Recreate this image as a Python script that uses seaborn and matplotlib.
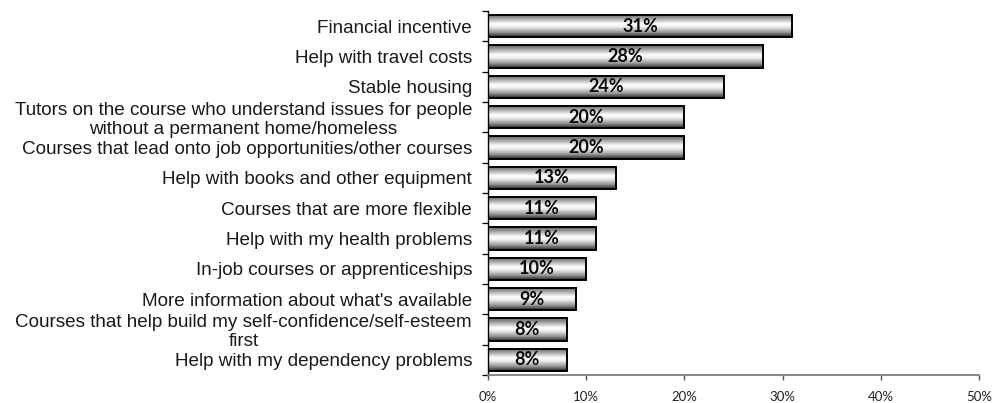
import numpy as np
import pandas as pd
import matplotlib
matplotlib.use("Agg")
import matplotlib.pyplot as plt
from matplotlib.colors import LinearSegmentedColormap
from matplotlib.ticker import FuncFormatter, MultipleLocator
import seaborn as sns

categories = [
    "Financial incentive",
    "Help with travel costs",
    "Stable housing",
    "Tutors on the course who understand issues for people\nwithout a permanent home/homeless",
    "Courses that lead onto job opportunities/other courses",
    "Help with books and other equipment",
    "Courses that are more flexible",
    "Help with my health problems",
    "In-job courses or apprenticeships",
    "More information about what's available",
    "Courses that help build my self-confidence/self-esteem\nfirst",
    "Help with my dependency problems",
]
percentages = [31, 28, 24, 20, 20, 13, 11, 11, 10, 9, 8, 8]
x_ticks = [0, 10, 20, 30, 40, 50]

df = pd.DataFrame({"reason": categories, "pct": percentages})

sns.set_theme(style="white")
plt.rcParams["font.family"] = ["Liberation Sans", "DejaVu Sans"]

fig = plt.figure(figsize=(9.95, 4.03), dpi=100)
ax = fig.add_axes([0.4905, 0.0695, 0.4935, 0.9032])

sns.barplot(data=df, x="pct", y="reason", orient="h", ax=ax,
            color="white", width=0.74, edgecolor="black", linewidth=1.4,
            saturation=1)

# metallic cylinder shading applied inside every bar
shade = LinearSegmentedColormap.from_list(
    "metal",
    [(0.0, "#666666"), (0.12, "#888888"), (0.42, "#ffffff"),
     (0.55, "#f0f0f0"), (0.8, "#949494"), (1.0, "#222222")])
grad = np.linspace(0, 1, 256).reshape(-1, 1)
for patch in ax.patches:
    x0, y0 = patch.get_x(), patch.get_y()
    w, h = patch.get_width(), patch.get_height()
    im = ax.imshow(grad, cmap=shade, aspect="auto",
                   extent=(x0, x0 + w, y0 + h, y0), origin="upper",
                   zorder=patch.get_zorder() - 0.1, interpolation="bilinear")
    im.set_clip_path(patch)
    patch.set_facecolor("none")

for cont in ax.containers:
    ax.bar_label(cont, labels=[f"{v}%" for v in percentages], label_type="center",
                 fontweight="bold", fontsize=13, family=["Lato", "DejaVu Sans"],
                 color="#0a0a0a")

ax.set_xlim(0, 50)
ax.set_ylim(len(categories) - 0.5, -0.5)
ax.set_xticks(x_ticks)
ax.xaxis.set_major_formatter(FuncFormatter(lambda v, _: f"{v:.0f}%"))
ax.set_xlabel("")
ax.set_ylabel("")

ax.tick_params(axis="y", which="major", length=0, pad=11.5, labelsize=13.6,
               labelcolor="#1a1a1a")
for lbl in ax.get_yticklabels():
    lbl.set_multialignment("center")
    lbl.set_linespacing(1.12)
ax.yaxis.set_minor_locator(MultipleLocator(1, offset=0.5))
ax.tick_params(axis="y", which="minor", left=True, length=4.5, width=0.9,
               color="black", direction="out")
ax.tick_params(axis="x", which="major", bottom=True, length=3.8, width=1.0,
               color="#555555", direction="out", pad=7.5, labelsize=9.5,
               labelcolor="#222222")
for lbl in ax.get_xticklabels():
    lbl.set_family(["Lato", "DejaVu Sans"])

for side in ["top", "right"]:
    ax.spines[side].set_visible(False)
ax.spines["left"].set_color("black")
ax.spines["left"].set_linewidth(1.0)
ax.spines["bottom"].set_color("#808080")
ax.spines["bottom"].set_linewidth(1.3)
ax.grid(False)

fig.savefig("out.png", dpi=100)
